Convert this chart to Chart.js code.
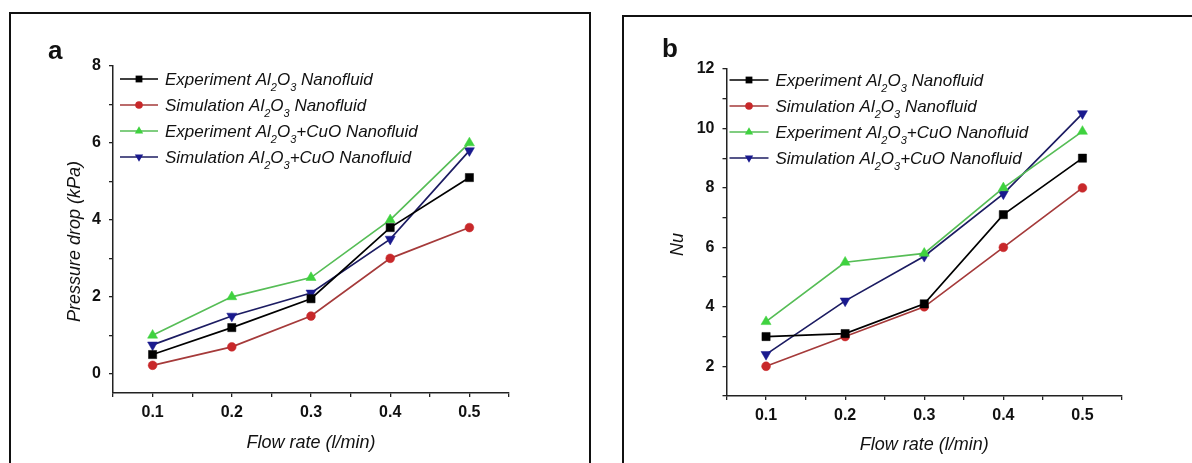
<!DOCTYPE html>
<html>
<head>
<meta charset="utf-8">
<script src="https://cdn.jsdelivr.net/npm/chart.js"></script>
<style>
html, body { margin: 0; padding: 0; background: #fff; }
#page { position: relative; width: 1192px; height: 463px; overflow: hidden; font-family: "Liberation Sans", Arial, sans-serif; }
canvas { position: absolute; top: 0; }
#pressureChart { left: 0; }
#nusseltChart { left: 600px; }
.frame { position: absolute; border: 2px solid #111; box-sizing: border-box; pointer-events: none; }
#frameA { left: 9px; top: 12px; width: 582px; height: 480px; }
#frameB { left: 622px; top: 15px; width: 600px; height: 480px; }
.tag { position: absolute; font-weight: bold; font-size: 26px; line-height: 26px; color: #111; }
</style>
</head>
<body>
<div id="page">
  <canvas id="pressureChart" width="600" height="463"></canvas>
  <canvas id="nusseltChart" width="592" height="463"></canvas>
  <div class="frame" id="frameA"></div>
  <div class="frame" id="frameB"></div>
  <div class="tag" style="left:48px;top:37px;">a</div>
  <div class="tag" style="left:662px;top:35px;">b</div>
</div>
<script>
// Flow rates (l/min) shared by both panels
var flowRate = [0.1, 0.2, 0.3, 0.4, 0.5];

// Pressure drop (kPa)
var dpExpAl = [0.5, 1.2, 1.95, 3.8, 5.1];
var dpSimAl = [0.22, 0.7, 1.5, 3.0, 3.8];
var dpExpCuO = [1.0, 2.0, 2.5, 4.0, 6.0];
var dpSimCuO = [0.75, 1.5, 2.1, 3.5, 5.8];

// Nusselt number
var nuExpAl = [3.0, 3.1, 4.1, 7.1, 9.0];
var nuSimAl = [2.0, 3.0, 4.0, 6.0, 8.0];
var nuExpCuO = [3.5, 5.5, 5.8, 8.0, 9.9];
var nuSimCuO = [2.4, 4.2, 5.7, 7.8, 10.5];

// "_" marks the next character as a subscript
var seriesNames = [
    'Experiment Al_2O_3 Nanofluid',
    'Simulation Al_2O_3 Nanofluid',
    'Experiment Al_2O_3+CuO Nanofluid',
    'Simulation Al_2O_3+CuO Nanofluid'
];

// Ticks (major ones labelled, minor ones blank)
var xTicks = [0.05, 0.1, 0.15, 0.2, 0.25, 0.3, 0.35, 0.4, 0.45, 0.5, 0.55];
var xTickLabels = ['', '0.1', '', '0.2', '', '0.3', '', '0.4', '', '0.5', ''];
var dpTicks = [0, 1, 2, 3, 4, 5, 6, 7, 8];
var dpTickLabels = ['0', '', '2', '', '4', '', '6', '', '8'];
var nuTicks = [1, 2, 3, 4, 5, 6, 7, 8, 9, 10, 11, 12];
var nuTickLabels = ['', '2', '', '4', '', '6', '', '8', '', '10', '', '12'];

var fontFamily = '"Liberation Sans", Arial, sans-serif';
Chart.defaults.font.family = fontFamily;
Chart.defaults.color = '#111';

var seriesStyle = [
    { line: '#000000', fill: '#000000', shape: 'rect', radius: 5.8, rotation: 0 },
    { line: '#a53a3a', fill: '#c8282a', shape: 'circle', radius: 4.4, rotation: 0 },
    { line: '#56bd56', fill: '#3fd23f', shape: 'triangle', radius: 5.8, rotation: 0 },
    { line: '#1c1c62', fill: '#1a1a8e', shape: 'triangle', radius: 5.8, rotation: 180 }
];

// Draws one marker shape for the legend
function drawMarker(ctx, style, x, y, r) {
    ctx.save();
    ctx.fillStyle = style.fill;
    ctx.beginPath();
    if (style.shape === 'rect') {
        var s = r * Math.SQRT1_2;
        ctx.rect(x - s, y - s, 2 * s, 2 * s);
    } else if (style.shape === 'circle') {
        ctx.arc(x, y, r, 0, Math.PI * 2);
    } else {
        var dir = style.rotation ? -1 : 1;
        ctx.moveTo(x, y - dir * r);
        ctx.lineTo(x + r * 0.866, y + dir * r * 0.5);
        ctx.lineTo(x - r * 0.866, y + dir * r * 0.5);
        ctx.closePath();
    }
    ctx.fill();
    ctx.restore();
}

// Legend with chemical subscripts, drawn inside the plot area
var subLegend = {
    id: 'subLegend',
    afterDraw: function(chart, args, opts) {
        var ctx = chart.ctx;
        var area = chart.chartArea;
        ctx.save();
        seriesNames.forEach(function(name, k) {
            var x0 = area.left + opts.x;
            var y = area.top + opts.y + k * opts.rowGap;
            var style = seriesStyle[k];
            ctx.strokeStyle = style.line;
            ctx.lineWidth = 1.7;
            ctx.beginPath();
            ctx.moveTo(x0, y);
            ctx.lineTo(x0 + opts.lineLen, y);
            ctx.stroke();
            drawMarker(ctx, style, x0 + opts.lineLen / 2, y, style.shape === 'circle' ? 3.8 : 4.8);

            var tx = x0 + opts.lineLen + opts.textGap;
            var base = y + 6;
            ctx.fillStyle = '#111';
            ctx.textBaseline = 'alphabetic';
            ctx.textAlign = 'left';
            for (var i = 0; i < name.length; i++) {
                var ch = name[i];
                if (ch === '_') {
                    ch = name[++i];
                    ctx.font = 'italic 11px ' + fontFamily;
                    ctx.fillText(ch, tx, base + 6);
                } else {
                    ctx.font = 'italic 17px ' + fontFamily;
                    ctx.fillText(ch, tx, base);
                }
                tx += ctx.measureText(ch).width;
            }
        });
        ctx.restore();
    }
};

// Rotated y-axis title, placed a little below the axis middle
var sideTitle = {
    id: 'sideTitle',
    afterDraw: function(chart, args, opts) {
        var ctx = chart.ctx;
        var area = chart.chartArea;
        ctx.save();
        ctx.translate(opts.x, (area.top + area.bottom) / 2 + opts.dy);
        ctx.rotate(-Math.PI / 2);
        ctx.font = 'italic 18px ' + fontFamily;
        ctx.fillStyle = '#111';
        ctx.textAlign = 'center';
        ctx.textBaseline = 'middle';
        ctx.fillText(opts.text, 0, 0);
        ctx.restore();
    }
};

function axisGrid() {
    return { display: true, drawOnChartArea: false, drawTicks: true, tickLength: 4, color: '#222', lineWidth: 1.3 };
}

function buildChart(id, cfg) {
    var datasets = cfg.series.map(function(vals, k) {
        var st = seriesStyle[k];
        return {
            label: seriesNames[k],
            data: flowRate.map(function(x, i) { return { x: x, y: vals[i] }; }),
            borderColor: st.line,
            backgroundColor: st.fill,
            pointBackgroundColor: st.fill,
            pointBorderColor: st.fill,
            pointBorderWidth: 0.5,
            pointStyle: st.shape,
            pointRadius: st.radius,
            pointRotation: st.rotation,
            borderWidth: 1.7,
            tension: 0
        };
    });

    return new Chart(document.getElementById(id), {
        type: 'line',
        data: { datasets: datasets },
        options: {
            responsive: false,
            animation: false,
            layout: { padding: cfg.padding },
            plugins: {
                legend: { display: false },
                tooltip: { enabled: false },
                subLegend: cfg.legend,
                sideTitle: cfg.yTitle
            },
            scales: {
                x: {
                    type: 'linear',
                    min: 0.05,
                    max: 0.55,
                    afterBuildTicks: function(scale) {
                        scale.ticks = xTicks.map(function(v) { return { value: v }; });
                    },
                    afterFit: function(scale) { scale.height = cfg.xHeight; },
                    ticks: {
                        autoSkip: false,
                        maxRotation: 0,
                        padding: 6,
                        font: { size: 16, weight: 'bold' },
                        color: '#111',
                        callback: function(v, i) { return xTickLabels[i]; }
                    },
                    grid: axisGrid(),
                    border: { display: true, color: '#222', width: 1.5 },
                    title: {
                        display: true,
                        text: 'Flow rate (l/min)',
                        font: { size: 18, style: 'italic' },
                        color: '#111',
                        padding: 0
                    }
                },
                y: {
                    type: 'linear',
                    min: cfg.yMin,
                    max: cfg.yMax,
                    afterBuildTicks: function(scale) {
                        scale.ticks = cfg.yTicks.map(function(v) { return { value: v }; });
                    },
                    afterFit: function(scale) { scale.width = cfg.yWidth; },
                    ticks: {
                        autoSkip: false,
                        padding: 8,
                        font: { size: 16, weight: 'bold' },
                        color: '#111',
                        callback: function(v, i) { return cfg.yTickLabels[i]; }
                    },
                    grid: axisGrid(),
                    border: { display: true, color: '#222', width: 1.5 }
                }
            }
        },
        plugins: [subLegend, sideTitle]
    });
}

buildChart('pressureChart', {
    series: [dpExpAl, dpSimAl, dpExpCuO, dpSimCuO],
    yMin: -0.5, yMax: 8,
    yTicks: dpTicks, yTickLabels: dpTickLabels,
    yWidth: 40, xHeight: 61,
    padding: { left: 73, right: 91, top: 66, bottom: 9 },
    legend: { x: 7, y: 13, rowGap: 26, lineLen: 38, textGap: 7 },
    yTitle: { text: 'Pressure drop (kPa)', x: 75, dy: 12 }
});

buildChart('nusseltChart', {
    series: [nuExpAl, nuSimAl, nuExpCuO, nuSimCuO],
    yMin: 1, yMax: 12,
    yTicks: nuTicks, yTickLabels: nuTickLabels,
    yWidth: 44, xHeight: 60,
    padding: { left: 82.5, right: 70, top: 69, bottom: 7 },
    legend: { x: 3, y: 11, rowGap: 26, lineLen: 39, textGap: 7 },
    yTitle: { text: 'Nu', x: 78, dy: 12 }
});
</script>
</body>
</html>
